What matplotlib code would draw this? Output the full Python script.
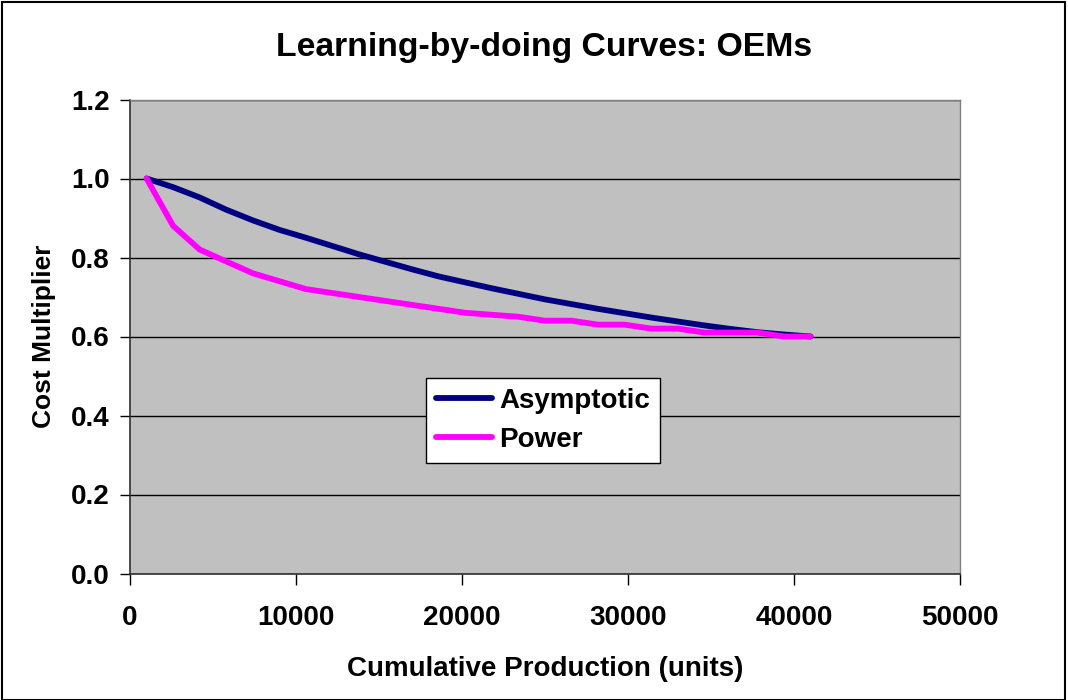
import matplotlib
matplotlib.use("Agg")
import matplotlib.pyplot as plt
from matplotlib.patches import Rectangle

plt.rcParams['font.family'] = ['Liberation Sans', 'DejaVu Sans']
plt.rcParams['font.weight'] = 'bold'

units = [1000, 2600, 4200, 5800, 7400, 9000, 10600, 12200, 13800, 15400,
         17000, 18600, 20200, 21800, 23400, 25000, 26600, 28200, 29800, 31400,
         33000, 34600, 36200, 37800, 39400, 41000]
asymptotic = [1.00, 0.978, 0.952, 0.921, 0.894, 0.870, 0.850, 0.829, 0.808, 0.789,
              0.770, 0.752, 0.737, 0.722, 0.708, 0.694, 0.682, 0.670, 0.659, 0.648,
              0.638, 0.628, 0.619, 0.611, 0.605, 0.600]
power = [1.00, 0.88, 0.82, 0.79, 0.76, 0.74, 0.72, 0.71, 0.70, 0.69,
         0.68, 0.67, 0.66, 0.655, 0.65, 0.64, 0.64, 0.63, 0.63, 0.62,
         0.62, 0.61, 0.61, 0.61, 0.60, 0.60]
x_ticks = [0, 10000, 20000, 30000, 40000, 50000]
y_ticks = [0.0, 0.2, 0.4, 0.6, 0.8, 1.0, 1.2]

fig = plt.figure(figsize=(10.68, 7.0), dpi=100)
ax = fig.add_axes([130/1068, 1 - 573.5/700, 830/1068, 474/700])
ax.set_facecolor('#C0C0C0')

ax.plot(units, asymptotic, color='#000080', lw=4.2, label='Asymptotic',
        solid_capstyle='round', solid_joinstyle='round', zorder=3)
ax.plot(units, power, color='#FF00FF', lw=4.2, label='Power',
        solid_capstyle='round', solid_joinstyle='round', zorder=3)

ax.set_xlim(0, 50000)
ax.set_ylim(0, 1.2)
ax.set_xticks(x_ticks)
ax.set_xticklabels([str(v) for v in x_ticks])
ax.set_yticks(y_ticks)
ax.set_yticklabels([f"{v:.1f}" for v in y_ticks])
ax.grid(axis='y', color='black', lw=1.0)
ax.set_axisbelow(True)

ax.tick_params(axis='x', direction='out', length=8, width=1, pad=15, labelsize=20)
ax.tick_params(axis='y', direction='out', length=7, width=1, pad=7.5, labelsize=20)
for lab in ax.get_xticklabels() + ax.get_yticklabels():
    lab.set_fontweight('bold')

for s in ['left', 'bottom']:
    ax.spines[s].set_color('#303030')
    ax.spines[s].set_linewidth(1.2)
for s in ['top', 'right']:
    ax.spines[s].set_color('#808080')
    ax.spines[s].set_linewidth(1.0)

ax.set_xlabel('Cumulative Production (units)', fontsize=20, fontweight='bold', labelpad=18)
ax.set_ylabel('Cost Multiplier', fontsize=19, fontweight='bold', labelpad=10.6)
fig.text(544/1068, 1 - 56/700, 'Learning-by-doing Curves: OEMs', ha='center', va='baseline',
         fontsize=24.3, fontweight='bold')

leg = ax.legend(loc='center', bbox_to_anchor=(543/1068, 1 - 420.5/700),
                bbox_transform=fig.transFigure, fontsize=20, frameon=True,
                fancybox=False, edgecolor='black', facecolor='white', framealpha=1,
                handlelength=2.0, handletextpad=0.25, labelspacing=0.48,
                borderpad=0.36, borderaxespad=0)
leg.get_frame().set_linewidth(1.0)
for t in leg.get_texts():
    t.set_fontweight('bold')

fig.patches.append(Rectangle((2/1068, 0), 1063/1068, 1 - 2/700, transform=fig.transFigure,
                             fill=False, edgecolor='black', lw=1.5, zorder=10))

fig.savefig('out.png', dpi=100, facecolor='white')
